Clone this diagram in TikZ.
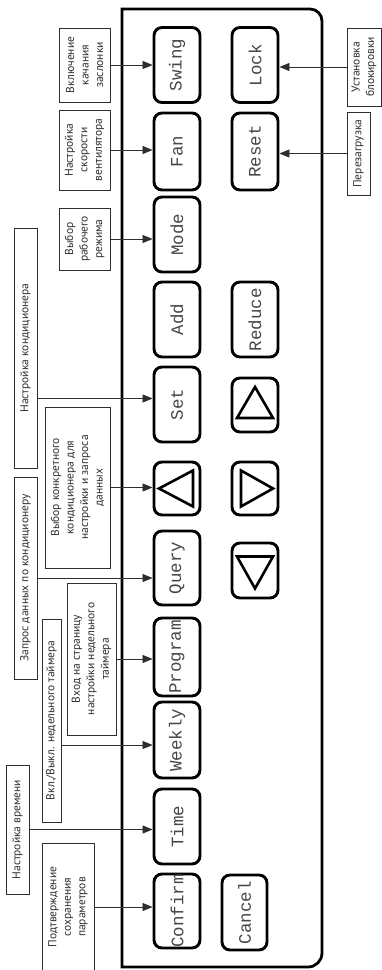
\documentclass[tikz,border=0pt]{standalone}
\usepackage{fontspec}
\usepackage{tikz}
\usetikzlibrary{arrows.meta,positioning,calc}
\newfontfamily\keyfont{Liberation Mono}
\newfontfamily\notefont{PT Sans}
\definecolor{inkgray}{HTML}{2E2E2E}

\begin{document}
\begin{tikzpicture}[x=1pt,y=1pt,
  key/.style={draw=black,line width=2.9pt,rounded corners=8pt,rotate=90,minimum width=75pt,minimum height=46pt,inner sep=0pt,font=\keyfont\fontsize{17.5}{18}\selectfont,text=black!72},
  note/.style={draw=inkgray,line width=0.9pt,rotate=90,align=center,inner sep=1pt,font=\notefont\fontsize{11.5}{14.5}\selectfont,text=inkgray},
  link/.style={draw=inkgray,line width=0.8pt,-{Triangle[length=10pt,width=8pt]}},
  tri/.style={line width=2.6pt,line join=miter}
]
\fill[white] (0,0) rectangle (382,-970);
\useasboundingbox (0,0) rectangle (382,-970);

% panel
\draw[line width=2.8pt] (122,-967) -- (122,-9) -- (310,-9) arc[start angle=90,end angle=0,radius=12pt]
  -- (322,-953) arc[start angle=0,end angle=-90,radius=14pt] -- cycle;

% first row of keys
\node[key] (swing) at (177,-65) {Swing};
\node[key,minimum width=77pt] (fan) at (177,-151.5) {Fan};
\node[key] (mode) at (177,-234.5) {Mode};
\node[key] (add) at (177,-319.5) {Add};
\node[key] (set) at (177,-404.5) {Set};
\node[key,minimum width=53pt] (left) at (177,-488.5) {};
\node[key,minimum width=74pt] (query) at (177,-568) {Query};
\node[key,minimum width=78pt] (program) at (177,-657) {Program};
\node[key,minimum width=76pt] (weekly) at (177,-740) {Weekly};
\node[key] (time) at (177,-826.5) {Time};
\node[key,minimum width=74pt] (confirm) at (177,-911) {Confirm};

% second row of keys
\node[key] (lock) at (255,-65) {Lock};
\node[key,minimum width=77pt] (reset) at (255,-151.5) {Reset};
\node[key] (reduce) at (255,-319.5) {Reduce};
\node[key,minimum width=54pt] (up) at (255,-405) {};
\node[key,minimum width=53pt] (right) at (255,-488.5) {};
\node[key,minimum width=55pt] (down) at (255,-570.5) {};
\node[key,minimum height=45pt] (cancel) at (244.5,-912.5) {Cancel};

% arrows on the keys
\draw[tri] ($(left)+(-18,0)$) -- ($(left)+(16,18)$) -- ($(left)+(16,-18)$) -- cycle;
\draw[tri] ($(up)+(0,18)$) -- ($(up)+(18,-13)$) -- ($(up)+(-18,-13)$) -- cycle;
\draw[tri] ($(right)+(18,0)$) -- ($(right)+(-14,18)$) -- ($(right)+(-14,-18)$) -- cycle;
\draw[tri] ($(down)+(0,-18)$) -- ($(down)+(18,14)$) -- ($(down)+(-18,14)$) -- cycle;

% notes
\node[note,minimum width=74pt,minimum height=51pt] (swingnote) at (84.5,-65) {Включение\\качания\\заслонки};
\node[note,minimum width=80pt,minimum height=51pt] (fannote) at (84.5,-150) {Настройка\\скорости\\вентилятора};
\node[note,minimum width=62pt,minimum height=51pt] (modenote) at (84.5,-239) {Выбор\\рабочего\\режима};
\node[note,minimum width=240pt,minimum height=23pt] (setnote) at (25.5,-348) {Настройка кондиционера};
\node[note,minimum width=161pt,minimum height=65pt] (leftnote) at (77.5,-487.5) {Выбор конкретного\\кондиционера для\\настройки и запроса\\данных};
\node[note,minimum width=202pt,minimum height=23pt] (querynote) at (25.5,-578) {Запрос данных по кондиционеру};
\node[note,minimum width=152pt,minimum height=49pt] (programnote) at (91.5,-659) {Вход на страницу\\настройки недельного\\таймера};
\node[note,minimum width=203pt,minimum height=19pt] (weeklynote) at (51.5,-720.5) {Вкл./Выкл. недельного таймера};
\node[note,minimum width=129pt,minimum height=23pt] (timenote) at (17.5,-829.5) {Настройка времени};
\node[note,minimum width=128pt,minimum height=52pt] (confirmnote) at (68,-907) {Подтверждение\\сохранения\\параметров};
\node[note,minimum width=78pt,minimum height=34pt] (locknote) at (364,-67) {Установка\\блокировки};
\node[note,minimum width=83pt,minimum height=23pt] (resetnote) at (358.5,-153.5) {Перезагрузка};

\coordinate (setin) at ([yshift=6pt]set.north);
\coordinate (weeklyin) at ([yshift=-5pt]weekly.north);

\draw[link] (swingnote.south) -- (swingnote.south -| swing.north);
\draw[link] (fannote.south) -- (fannote.south -| fan.north);
\draw[link] (modenote.south) -- (modenote.south -| mode.north);
\draw[link] (setnote.south |- setin) -- (setin);
\draw[link] (leftnote.south) -- (leftnote.south -| left.north);
\draw[link] (querynote.south) -- (querynote.south -| query.north);
\draw[link] (programnote.south) -- (programnote.south -| program.north);
\draw[link] (weeklynote.south |- weeklyin) -- (weeklyin);
\draw[link] (timenote.south) -- (timenote.south -| time.north);
\draw[link] (confirmnote.south) -- (confirmnote.south -| confirm.north);
\draw[link] (locknote.north) -- (locknote.north -| lock.south);
\draw[link] (resetnote.north) -- (resetnote.north -| reset.south);
\end{tikzpicture}
\end{document}
